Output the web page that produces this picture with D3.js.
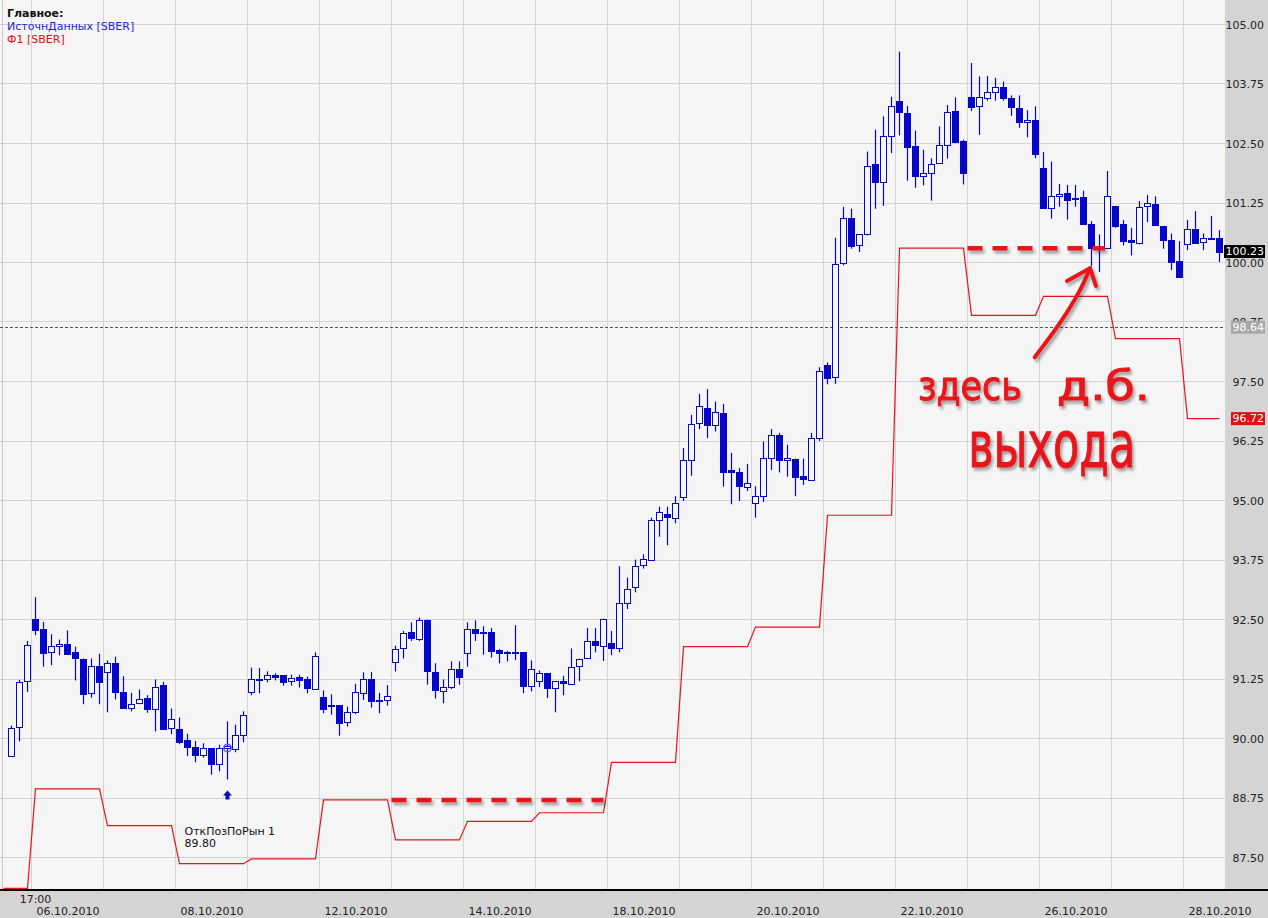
<!DOCTYPE html>
<html>
<head>
<meta charset="utf-8">
<script src="https://cdnjs.cloudflare.com/ajax/libs/d3/7.8.5/d3.min.js"></script>
<style>
  body { margin: 0; background: #f5f5f5; }
  svg { display: block; }
</style>
</head>
<body>
<svg id="chart"></svg>
<script>
// trading days shown, and how many hourly candles each one has on screen
var days = ["05.10.2010", "06.10.2010", "07.10.2010", "08.10.2010", "11.10.2010", "12.10.2010",
            "13.10.2010", "14.10.2010", "15.10.2010", "18.10.2010", "19.10.2010", "20.10.2010",
            "21.10.2010", "22.10.2010", "25.10.2010", "26.10.2010", "27.10.2010", "28.10.2010"];
var candlesPerDay = [3, 9, 9, 9, 9, 9, 9, 9, 9, 9, 9, 9, 9, 9, 9, 9, 9, 5];
var axisDates = ["06.10.2010", "08.10.2010", "12.10.2010", "14.10.2010", "18.10.2010",
                 "20.10.2010", "22.10.2010", "26.10.2010", "28.10.2010"];
var firstTimeLabel = "17:00";

var yTickValues = [87.5, 88.75, 90, 91.25, 92.5, 93.75, 95, 96.25, 97.5, 98.75, 100, 101.25, 102.5, 103.75, 105];

// SBER hourly candles
var candleOpen = [
  89.64, 90.25, 91.22, 92.52, 92.29, 91.82, 91.95, 91.99, 91.81, 91.68, 90.96, 91.52, 91.40, 91.59, 90.98, 90.65,
  90.75, 90.86, 90.63, 91.12, 90.21, 90.21, 89.97, 89.83, 89.66, 89.79, 89.45, 89.80, 89.79, 90.08, 90.97, 91.26,
  91.26, 91.34, 91.33, 91.20, 91.29, 91.25, 91.04, 90.88, 90.70, 90.70, 90.34, 90.55, 90.97, 91.26, 90.81, 90.81,
  91.62, 91.89, 92.23, 92.10, 92.49, 91.39, 91.01, 91.08, 91.47, 91.81, 92.31, 92.23, 92.23, 91.86, 91.82, 91.82,
  91.81, 91.11, 91.20, 91.37, 91.05, 91.20, 91.16, 91.53, 91.68, 92.04, 91.95, 92.00, 91.89, 92.86, 93.19, 93.65,
  93.76, 94.59, 94.71, 94.64, 95.08, 95.85, 96.63, 96.94, 96.59, 96.84, 95.65, 95.60, 95.29, 94.95, 95.09, 95.89,
  96.38, 95.85, 95.88, 95.52, 95.43, 96.31, 97.84, 97.58, 100.00, 100.94, 100.36, 100.60, 102.06, 101.69, 102.65, 103.40,
  103.14, 102.44, 101.82, 101.89, 102.09, 102.47, 103.18, 102.56, 103.48, 103.29, 103.46, 103.58, 103.69, 103.46, 103.25, 102.95,
  103.00, 101.99, 101.15, 101.40, 101.46, 101.35, 101.37, 100.80, 100.31, 100.31, 101.19, 100.80, 100.47, 100.42, 101.17, 101.22,
  100.76, 100.47, 100.03, 100.40, 100.71, 100.44, 100.52, 100.52];
var candleHigh = [
  90.27, 91.23, 92.05, 92.97, 92.45, 92.19, 92.08, 92.27, 91.93, 91.68, 91.68, 91.78, 91.64, 91.72, 91.31, 90.96,
  91.03, 90.91, 91.24, 91.19, 90.63, 90.44, 90.10, 89.95, 89.90, 89.79, 89.87, 90.36, 90.29, 90.57, 91.49, 91.48,
  91.41, 91.37, 91.33, 91.34, 91.34, 91.30, 91.81, 91.01, 90.93, 90.70, 90.67, 91.15, 91.39, 91.40, 90.96, 91.12,
  91.95, 92.26, 92.44, 92.54, 92.50, 91.58, 91.24, 91.62, 91.62, 92.44, 92.48, 92.36, 92.32, 91.88, 91.84, 92.38,
  91.81, 91.64, 91.43, 91.37, 91.20, 91.32, 91.89, 91.68, 92.32, 92.32, 92.52, 92.26, 93.62, 93.38, 93.76, 93.87,
  94.64, 94.87, 94.87, 95.09, 96.10, 96.80, 97.24, 97.34, 97.08, 97.03, 96.00, 95.68, 95.77, 95.30, 96.24, 96.50,
  96.42, 96.17, 95.88, 95.88, 96.42, 97.80, 97.90, 100.52, 101.17, 101.13, 100.60, 102.33, 102.79, 103.07, 103.48, 104.43,
  103.29, 102.77, 102.37, 102.19, 102.86, 103.31, 103.47, 102.58, 104.19, 103.91, 103.92, 103.88, 103.80, 103.51, 103.51, 103.20,
  103.28, 102.32, 102.12, 101.65, 101.63, 101.63, 101.51, 100.87, 100.59, 101.92, 101.19, 100.89, 100.73, 101.29, 101.42, 101.39,
  100.76, 100.61, 100.45, 100.89, 101.08, 100.61, 100.98, 100.68];
var candleLow = [
  89.62, 89.94, 90.98, 92.17, 91.51, 91.54, 91.75, 91.78, 91.22, 90.72, 90.86, 90.72, 90.55, 90.82, 90.65, 90.57,
  90.72, 90.54, 90.15, 90.19, 90.09, 89.88, 89.63, 89.50, 89.60, 89.24, 89.31, 89.14, 89.71, 89.92, 90.91, 90.95,
  91.18, 91.22, 91.11, 91.11, 91.07, 90.95, 91.02, 90.53, 90.50, 90.06, 90.25, 90.51, 90.81, 90.65, 90.53, 90.69,
  91.41, 91.68, 92.05, 92.05, 91.13, 90.84, 90.74, 91.04, 91.13, 91.51, 92.05, 91.76, 91.70, 91.58, 91.62, 91.65,
  90.95, 90.99, 91.08, 90.85, 90.55, 90.91, 91.16, 91.20, 91.68, 91.81, 91.63, 91.75, 91.81, 92.72, 93.07, 93.57,
  93.76, 94.24, 94.06, 94.52, 94.99, 95.52, 96.50, 96.31, 96.45, 95.29, 94.92, 94.99, 95.20, 94.64, 94.97, 95.64,
  95.59, 95.50, 95.09, 95.33, 95.43, 96.25, 97.44, 97.45, 99.94, 100.29, 100.22, 100.57, 101.13, 101.19, 102.30, 102.67,
  101.72, 101.57, 101.62, 101.30, 102.09, 102.18, 102.51, 101.64, 103.18, 102.68, 103.40, 103.40, 103.40, 103.08, 102.83, 102.63,
  102.19, 101.13, 100.92, 101.17, 100.90, 101.17, 100.80, 99.92, 99.80, 100.31, 100.73, 100.36, 100.15, 100.38, 100.85, 100.77,
  100.29, 99.84, 99.68, 100.26, 100.42, 100.26, 100.47, 100.01];
var candleClose = [
  90.23, 91.19, 91.97, 92.28, 91.79, 91.95, 91.99, 91.79, 91.69, 90.94, 91.52, 91.19, 91.59, 90.98, 90.65, 90.73,
  90.83, 90.62, 91.09, 90.20, 90.40, 89.93, 89.83, 89.66, 89.81, 89.46, 89.79, 89.84, 90.08, 90.50, 91.24, 91.23,
  91.34, 91.30, 91.19, 91.27, 91.23, 91.06, 91.74, 90.62, 90.67, 90.33, 90.55, 90.97, 91.26, 90.80, 90.78, 90.90,
  91.89, 92.21, 92.10, 92.49, 91.41, 91.01, 91.09, 91.45, 91.30, 92.31, 92.23, 92.20, 91.84, 91.80, 91.80, 91.80,
  91.09, 91.47, 91.37, 91.05, 91.20, 91.16, 91.51, 91.68, 92.04, 91.95, 92.52, 91.89, 92.84, 93.15, 93.63, 93.78,
  94.59, 94.76, 94.64, 94.95, 95.85, 96.61, 96.98, 96.58, 96.86, 95.61, 95.60, 95.30, 95.37, 95.10, 95.89, 96.38,
  95.85, 95.90, 95.51, 95.45, 96.31, 97.72, 97.56, 99.96, 100.94, 100.35, 100.60, 102.03, 101.69, 102.65, 103.29, 103.16,
  102.42, 101.82, 101.89, 102.07, 102.47, 103.16, 102.53, 101.88, 103.28, 103.48, 103.58, 103.69, 103.45, 103.28, 102.95, 103.00,
  102.28, 101.15, 101.40, 101.44, 101.31, 101.33, 100.81, 100.29, 100.29, 101.40, 100.77, 100.45, 100.42, 101.17, 101.24, 100.77,
  100.47, 100.00, 99.70, 100.71, 100.42, 100.52, 100.50, 100.23];

// Ф1 indicator, one level per day
var f1Values = [86.85, 88.94, 88.17, 87.37, 87.47, 88.71, 87.87, 88.26, 88.44, 89.50,
                91.93, 92.34, 94.69, 100.30, 98.89, 99.29, 98.40, 96.72];

var levelLine = 98.64;
var entryCandle = 27, entryPrice = 89.80, entryName = "ОткПозПоРын 1";

var width = 1268, height = 918,
    plotRight = 1225, plotBottom = 889;

var blue = "#0606c8", red = "#e8141a", bg = "#f5f5f5";
var font = "DejaVu Sans, Verdana, sans-serif";

var svg = d3.select("#chart").attr("width", width).attr("height", height);

var defs = svg.append("defs");
defs.append("clipPath").attr("id", "plotclip")
    .append("rect").attr("x", 0).attr("y", 0).attr("width", plotRight).attr("height", plotBottom);
var shadow = defs.append("filter").attr("id", "shadow")
    .attr("x", "-20%").attr("y", "-30%").attr("width", "150%").attr("height", "170%");
shadow.append("feDropShadow")
    .attr("dx", 2).attr("dy", 3).attr("stdDeviation", 1.8)
    .attr("flood-color", "#000").attr("flood-opacity", 0.35);

var n = candleOpen.length;
var x = d3.scaleLinear().domain([0, n - 1]).range([11.5, 11.5 + 8 * (n - 1)]);
var y = d3.scaleLinear().domain([87.5, 105]).range([857.5, 24.5]);

// first candle index of each day
var dayStart = [];
candlesPerDay.reduce(function (acc, c) { dayStart.push(acc); return acc + c; }, 0);
var step = x(1) - x(0);

svg.append("rect").attr("width", width).attr("height", height).attr("fill", bg);

var plot = svg.append("g").attr("clip-path", "url(#plotclip)");

// gridlines
plot.append("g").selectAll("line")
    .data(yTickValues)
    .join("line")
    .attr("x1", 0).attr("x2", plotRight)
    .attr("y1", d => Math.floor(y(d)) + 0.5).attr("y2", d => Math.floor(y(d)) + 0.5)
    .attr("stroke", "#d4d4d4");

plot.append("g").selectAll("line")
    .data(dayStart.slice(1))
    .join("line")
    .attr("x1", d => x(d) - step / 2).attr("x2", d => x(d) - step / 2)
    .attr("y1", 0).attr("y2", plotBottom)
    .attr("stroke", "#d4d4d4");

plot.append("line")
    .attr("x1", 2.5).attr("x2", 2.5).attr("y1", 0).attr("y2", plotBottom)
    .attr("stroke", "#cccccc");

// dashed level
plot.append("line")
    .attr("x1", 0).attr("x2", plotRight)
    .attr("y1", Math.floor(y(levelLine)) + 0.5).attr("y2", Math.floor(y(levelLine)) + 0.5)
    .attr("stroke", "#555").attr("stroke-dasharray", "3,2");

// Ф1 line, value held through each day
var f1Points = [{i: -1, v: f1Values[0]}];
days.forEach(function (d, k) {
  for (var j = 0; j < candlesPerDay[k]; j++) f1Points.push({i: dayStart[k] + j, v: f1Values[k]});
});
plot.append("path")
    .datum(f1Points)
    .attr("fill", "none")
    .attr("stroke", red)
    .attr("stroke-width", 1.2)
    .attr("d", d3.line().x(d => x(d.i)).y(d => y(d.v)));

// candles
var candles = d3.range(n).map(function (i) {
  return {i: i, o: candleOpen[i], h: candleHigh[i], l: candleLow[i], c: candleClose[i]};
});

var cg = plot.append("g");
cg.selectAll("line")
  .data(candles)
  .join("line")
  .attr("x1", d => x(d.i)).attr("x2", d => x(d.i))
  .attr("y1", d => y(d.h)).attr("y2", d => y(d.l))
  .attr("stroke", blue).attr("stroke-width", 1.2);

cg.selectAll("rect")
  .data(candles)
  .join("rect")
  .attr("x", d => x(d.i) - 3)
  .attr("width", 6)
  .attr("y", d => Math.round(y(Math.max(d.o, d.c))) + 0.5)
  .attr("height", d => Math.max(1, Math.round(Math.abs(y(d.o) - y(d.c)))))
  .attr("fill", d => d.c >= d.o ? bg : blue)
  .attr("stroke", blue);

// entry marker
var ex = x(entryCandle);
plot.append("circle")
    .attr("cx", ex).attr("cy", y(entryPrice)).attr("r", 3.8)
    .attr("fill", "none").attr("stroke", "#5a5aff").attr("stroke-width", 1.4);

var at = y(candleLow[entryCandle]) + 11;
plot.append("path")
    .attr("d", "M" + ex + "," + at + "l4.5,5h-2.5v4h-4v-4h-2.5z")
    .attr("fill", blue);

plot.append("text")
    .attr("x", ex - 43).attr("y", at + 44.5)
    .attr("font-family", font).attr("font-size", 11).attr("fill", "#111")
    .text(entryName);
plot.append("text")
    .attr("x", ex - 43).attr("y", at + 57)
    .attr("font-family", font).attr("font-size", 11).attr("fill", "#111")
    .text(entryPrice.toFixed(2));

// hand-drawn notes
var notes = plot.append("g").attr("filter", "url(#shadow)");

var dashes = [
  {from: dayStart[6] - 0.5, to: dayStart[9] - 1, level: f1Values[5]},
  {from: dayStart[14] - 0.5, to: 136.7, level: f1Values[13]}
];
notes.selectAll("line.dash")
  .data(dashes)
  .join("line")
  .attr("x1", d => x(d.from)).attr("x2", d => x(d.to))
  .attr("y1", d => y(d.level)).attr("y2", d => y(d.level))
  .attr("stroke", red).attr("stroke-width", 4.5)
  .attr("stroke-dasharray", "15,10");

var arrowBody = [[127.9, 98.01], [131.06, 98.73], [133.56, 99.42], [134.81, 99.88]];
var arrowHead = [[131.94, 99.61], [134.81, 99.88], [135.56, 99.51]];
var pline = d3.line().x(d => x(d[0])).y(d => y(d[1]));
notes.append("path")
  .attr("d", pline.curve(d3.curveCatmullRom)(arrowBody))
  .attr("fill", "none").attr("stroke", red).attr("stroke-width", 4)
  .attr("stroke-linecap", "round");
notes.append("path")
  .attr("d", d3.line().x(d => x(d[0])).y(d => y(d[1]))(arrowHead))
  .attr("fill", "none").attr("stroke", red).attr("stroke-width", 4)
  .attr("stroke-linecap", "round").attr("stroke-linejoin", "round");

var noteTexts = [
  {t: "здесь", i: 113.3, p: 97.11, size: 40, len: 104},
  {t: "д.б.", i: 130.7, p: 97.11, size: 40, len: 93},
  {t: "выхода", i: 119.6, p: 95.70, size: 64, len: 167}
];
notes.selectAll("text")
  .data(noteTexts)
  .join("text")
  .attr("x", d => x(d.i)).attr("y", d => y(d.p))
  .attr("font-family", font).attr("font-size", d => d.size)
  .attr("textLength", d => d.len).attr("lengthAdjust", "spacingAndGlyphs")
  .attr("fill", red).attr("stroke", red).attr("stroke-width", 1)
  .attr("stroke-linejoin", "round")
  .text(d => d.t);

// axis bands
svg.append("rect").attr("x", plotRight).attr("y", 0)
   .attr("width", width - plotRight).attr("height", plotBottom + 1).attr("fill", "#d4d4d4");
svg.append("rect").attr("x", 0).attr("y", plotBottom + 1)
   .attr("width", width).attr("height", height - plotBottom - 1).attr("fill", "#d4d4d4");
svg.append("line").attr("x1", 0).attr("x2", width)
   .attr("y1", plotBottom + 1).attr("y2", plotBottom + 1)
   .attr("stroke", "#000").attr("stroke-width", 2);

// price axis
var yAxis = d3.axisLeft(y).tickValues(yTickValues).tickSize(0).tickPadding(0)
              .tickFormat(d3.format(".2f"));
var yg = svg.append("g").attr("transform", "translate(1264,0)").call(yAxis);
yg.select(".domain").remove();
yg.selectAll("text").attr("font-family", font).attr("font-size", 11).attr("fill", "#222");

// date axis
var centers = axisDates.map(d => dayStart[days.indexOf(d)] + 4);
var xAxis = d3.axisBottom(x).tickValues(centers).tickSize(0).tickPadding(17)
              .tickFormat((d, k) => axisDates[k]);
var xg = svg.append("g").attr("transform", "translate(0," + (plotBottom + 1) + ")").call(xAxis);
xg.select(".domain").remove();
xg.selectAll("text").attr("font-family", font).attr("font-size", 11).attr("fill", "#222");

svg.append("text")
   .attr("x", x(dayStart[1])).attr("y", 902.5)
   .attr("text-anchor", "middle")
   .attr("font-family", font).attr("font-size", 11).attr("fill", "#222")
   .text(firstTimeLabel);

// price boxes on the axis
var boxes = [
  {v: levelLine, fill: "#a8a8a8", color: "#fff"},
  {v: candleClose[n - 1], fill: "#000", color: "#fff"},
  {v: f1Values[f1Values.length - 1], fill: "#e01010", color: "#fff"}
];
boxes.forEach(function (b) {
  var g = svg.append("g");
  var r = g.append("rect");
  var t = g.append("text")
    .attr("x", 1264).attr("y", y(b.v)).attr("dy", "0.35em")
    .attr("text-anchor", "end")
    .attr("font-family", font).attr("font-size", 11).attr("fill", b.color)
    .text(b.v.toFixed(2));
  var w = t.node().getComputedTextLength();
  r.attr("x", 1264 - w - 1.5).attr("y", y(b.v) - 6.5)
   .attr("width", w + 2.5).attr("height", 13).attr("fill", b.fill);
});

// legend
var legend = [
  {t: "Главное:", c: "#111", w: "bold"},
  {t: "ИсточнДанных [SBER]", c: "#2424e0", w: "normal"},
  {t: "Ф1 [SBER]", c: "#e01010", w: "normal"}
];
svg.append("g").selectAll("text")
   .data(legend)
   .join("text")
   .attr("x", 7).attr("y", (d, k) => 16.5 + k * 13)
   .attr("font-family", font).attr("font-size", 11)
   .attr("font-weight", d => d.w).attr("fill", d => d.c)
   .text(d => d.t);
</script>
</body>
</html>
